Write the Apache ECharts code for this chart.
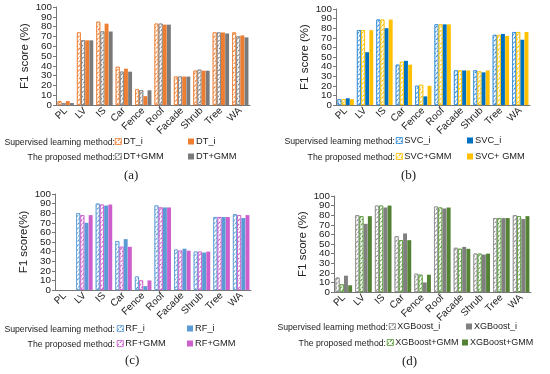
<!DOCTYPE html>
<html><head><meta charset="utf-8">
<script src="https://cdn.jsdelivr.net/npm/echarts@6/dist/echarts.min.js"></script>
<style>html,body{margin:0;padding:0;background:#fff}#c{width:550px;height:374px}</style>
</head><body><div id="c"></div>
<script>
const categories = ['PL','LV','IS','Car','Fence','Roof','Facade','Shrub','Tree','WA'];
const yTicks = [0,10,20,30,40,50,60,70,80,90,100];

// (a) DT
const dtHatchedI   = [4,74,85,39,16,83,29,35,74,74];
const dtHatchedGMM = [2,66,75,34,15,83,29,36,74,70];
const dtSolidI     = [4,66,83,37,9,82,29,35,74,71];
const dtSolidGMM   = [2,66,75,34,15,82,29,35,73,69];
// (b) SVC
const svcHatchedI   = [6,78,89,42,20,84,36,36,73,76];
const svcHatchedGMM = [6,78,89,45,21,84,36,35,73,76];
const svcSolidI     = [7,55,80,46,9,84,36,34,74,68];
const svcSolidGMM   = [6,78,89,42,20,84,36,36,72,76];
// (c) RF
const rfHatchedI   = [0,80,90,51,14,88,42,40,76,79];
const rfHatchedGMM = [0,78,89,45,10,86,41,40,76,78];
const rfSolidI     = [0,70,88,53,4,86,43,39,76,75];
const rfSolidGMM   = [0,78,89,45,10,86,41,40,76,78];
// (d) XGBoost
const xgbHatchedI   = [15,80,90,58,19,89,46,40,77,80];
const xgbHatchedGMM = [8,79,90,54,18,88,45,40,77,79];
const xgbSolidI     = [17,71,88,61,10,87,47,39,77,76];
const xgbSolidGMM   = [7,79,90,54,18,88,45,40,77,79];

const panels = [
  {grid:{left:56,top:7,width:194,height:98}, yName:'F1 score (%)',
   names:['DT_i','DT+GMM','DT_i ','DT+GMM '], data:[dtHatchedI,dtHatchedGMM,dtSolidI,dtSolidGMM],
   colors:['#ED7D31','#7F7F7F','#ED7D31','#7A7A7A'], legFont:9.3,
   labelRight:115, rows:[143,158], legendX:[[115,188],[115,188]], cap:'(a)', capX:132, capY:177},
  {grid:{left:336,top:9,width:194,height:96}, yName:'F1 score (%)',
   names:['SVC_i','SVC+GMM','SVC_i ','SVC+ GMM'], data:[svcHatchedI,svcHatchedGMM,svcSolidI,svcSolidGMM],
   colors:['#2E8BD8','#FFC000','#0070C0','#FFC000'], legFont:9.3,
   labelRight:395, rows:[142,158], legendX:[[396,467],[396,467]], cap:'(b)', capX:409, capY:177},
  {grid:{left:55,top:194,width:196,height:96}, yName:'F1 score(%)',
   names:['RF_i','RF+GMM','RF_i ','RF+GMM '], data:[rfHatchedI,rfHatchedGMM,rfSolidI,rfSolidGMM],
   colors:['#5B9BD5','#CC5FCC','#5B9BD5','#CC5FCC'], legFont:9.3,
   labelRight:115, rows:[330,345], legendX:[[117,187],[117,187]], cap:'(c)', capX:133, capY:362},
  {grid:{left:334,top:196,width:197,height:96}, yName:'F1 score (%)',
   names:['XGBoost_i','XGBoost+GMM','XGBoost_i ','XGBoost+GMM '], data:[xgbHatchedI,xgbHatchedGMM,xgbSolidI,xgbSolidGMM],
   colors:['#8C8C8C','#5A9A3C','#808080','#548235'], legFont:9,
   labelRight:388, rows:[328,344], legendX:[[389,466],[387,462]], cap:'(d)', capX:410, capY:363}
];

function hatch(c){
  return {symbol:'rect', symbolSize:1, color:c, backgroundColor:'#fff',
          dashArrayX:[[3,1]], dashArrayY:[1,2], rotation:-Math.PI/4};
}

const FONT = 'Liberation Sans, Arial, sans-serif';
const grid=[], xAxis=[], yAxis=[], series=[], legend=[], graphic=[];
panels.forEach((p,i)=>{
  grid.push(Object.assign({containLabel:false}, p.grid));
  xAxis.push({type:'category', gridIndex:i, data:categories,
    axisLine:{lineStyle:{color:'#777',width:1}}, axisTick:{show:false},
    axisLabel:{rotate:45, margin:4, fontSize:10, color:'#222', fontFamily:FONT, interval:0}});
  // main axis: even tick labels
  yAxis.push({type:'value', gridIndex:i, position:'left', min:0, max:100, interval:10,
    name:p.yName, nameLocation:'middle', nameGap:25, nameRotate:90,
    nameTextStyle:{fontSize:11.5, color:'#222', fontFamily:FONT},
    splitLine:{show:false},
    axisLine:{show:true, lineStyle:{color:'#777',width:1}},
    axisTick:{show:true, length:3, lineStyle:{color:'#777'}},
    axisLabel:{margin:4, fontSize:9.8, color:'#222', fontFamily:FONT, showMaxLabel:true, showMinLabel:true,
      formatter:v=>(yTicks.includes(v) && (v/10)%2===0)?String(v):''}});
  // overlay axis on the same side: odd tick labels
  yAxis.push({type:'value', gridIndex:i, position:'left', offset:0, min:0, max:100, interval:10,
    splitLine:{show:false}, axisLine:{show:false, onZero:false}, axisTick:{show:false},
    axisLabel:{margin:4, fontSize:9.8, color:'#222', fontFamily:FONT,
      formatter:v=>(yTicks.includes(v) && (v/10)%2===1)?String(v):''}});
  p.names.forEach((n,k)=>{
    const hatched = k<2;
    const col = p.colors[k];
    const style = hatched ? {color:col, borderColor:col, borderWidth:0.8, decal:hatch(col)} : {color:col};
    series.push({type:'bar', name:n, xAxisIndex:i, yAxisIndex:2*i,
      data:p.data[k].map(v=> v===0 ? {value:v, itemStyle:{borderWidth:0, opacity:0}} : v),
      barGap:'6%', barCategoryGap:'16%', itemStyle:style});
  });
  const order = [[0,2],[1,3]];
  order.forEach((pair,r)=>{
    pair.forEach((sIdx,col)=>{
      legend.push({data:[p.names[sIdx]], left:p.legendX[r][col], top:p.rows[r]-6, padding:0,
        icon:'rect', itemWidth:6, itemHeight:6, selectedMode:false,
        itemStyle:{borderWidth:0.6},
        textStyle:{fontSize:p.legFont, color:'#222', fontFamily:FONT, padding:[0,0,0,-3]}});
    });
  });
  graphic.push({type:'text', right:550-p.labelRight, top:p.rows[0]-5, style:{text:'Supervised learning method:', fontSize:8.7, fill:'#222', fontFamily:FONT}});
  graphic.push({type:'text', right:550-p.labelRight + (i===3?2:0), top:p.rows[1]-5, style:{text:'The proposed method:', fontSize:8.7, fill:'#222', fontFamily:FONT}});
  graphic.push({type:'text', left:p.capX-8, top:p.capY-8, style:{text:p.cap, fontSize:13, fill:'#222', fontFamily:'Liberation Serif, Times New Roman, serif'}});
});

const chart = echarts.init(document.getElementById('c'), null, {renderer:'canvas'});
chart.setOption({animation:false, backgroundColor:'#fff', grid, xAxis, yAxis, series, legend, graphic});
</script></body></html>
